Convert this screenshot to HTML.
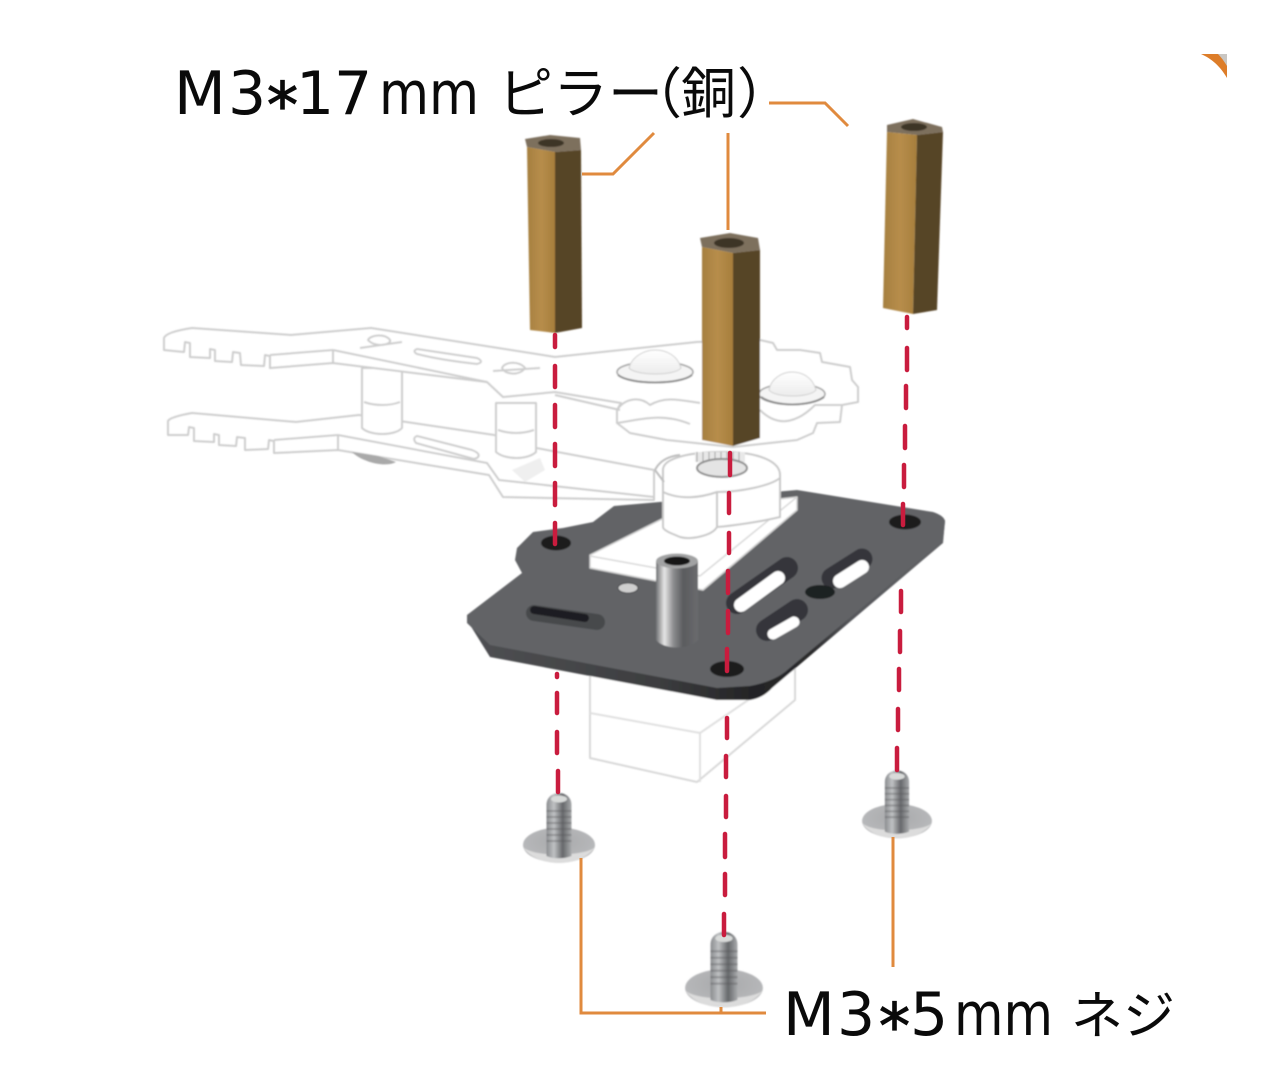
<!DOCTYPE html>
<html lang="ja">
<head>
<meta charset="utf-8">
<title>M3 pillar assembly</title>
<style>
html,body{margin:0;padding:0;background:#fff;width:1280px;height:1083px;overflow:hidden}
svg{display:block}
.l{font-family:"DejaVu Sans","Noto Sans CJK JP",sans-serif;font-size:60px;fill:#0a0a0a}
.a{font-family:"DejaVu Sans",sans-serif;font-size:62px;fill:#0a0a0a;stroke:#0a0a0a;stroke-width:1.2}
.j{font-family:"Noto Sans CJK JP","Liberation Sans",sans-serif;font-size:55px;fill:#0a0a0a}
.g{fill:#fff;stroke:#cdcdcd;stroke-width:2;stroke-linejoin:round}
.gn{fill:none;stroke:#cdcdcd;stroke-width:2;stroke-linejoin:round}
.o{fill:none;stroke:#e08a3e;stroke-width:3}
.r{stroke:#c91c3e;stroke-width:4.5;stroke-linecap:round;fill:none}
</style>
</head>
<body>
<svg width="1280" height="1083" viewBox="0 0 1280 1083" xmlns="http://www.w3.org/2000/svg">
<defs>
<filter id="soft" x="-5%" y="-5%" width="110%" height="110%"><feGaussianBlur stdDeviation="0.7"/></filter>
<linearGradient id="br" x1="0" x2="1" y1="0" y2="0"><stop offset="0" stop-color="#a57f3f"/><stop offset=".5" stop-color="#b78d4b"/><stop offset="1" stop-color="#a67e3c"/></linearGradient>
<linearGradient id="st" x1="0" x2="1" y1="0" y2="0"><stop offset="0" stop-color="#6f7073"/><stop offset=".2" stop-color="#e6e6e6"/><stop offset=".42" stop-color="#8a8b8d"/><stop offset=".65" stop-color="#5a5b5e"/><stop offset="1" stop-color="#6a6b6e"/></linearGradient>
<linearGradient id="th" x1="0" x2="1" y1="0" y2="0"><stop offset="0" stop-color="#8b8d90"/><stop offset=".3" stop-color="#bfc1c3"/><stop offset=".65" stop-color="#66686b"/><stop offset="1" stop-color="#a9abad"/></linearGradient>
<radialGradient id="hd" cx=".5" cy=".4" r=".65"><stop offset="0" stop-color="#a8a9ab"/><stop offset=".8" stop-color="#b7b8ba"/><stop offset="1" stop-color="#77787b"/></radialGradient>
<linearGradient id="side" x1="467" x2="945" y1="0" y2="0" gradientUnits="userSpaceOnUse"><stop offset="0" stop-color="#4f5053"/><stop offset=".4" stop-color="#3c3d3f"/><stop offset=".6" stop-color="#232325"/><stop offset=".72" stop-color="#2a2a2c"/><stop offset=".8" stop-color="#55565a"/><stop offset="1" stop-color="#626366"/></linearGradient>
<linearGradient id="dome" x1="0" x2="0" y1="0" y2="1"><stop offset="0" stop-color="#fff"/><stop offset="1" stop-color="#ececec"/></linearGradient>
<g id="screw">
  <ellipse cx="0" cy="0" rx="36" ry="17.5" fill="url(#hd)"/>
  <path d="M-36 2C-28 15 -10 18 0 18S28 15 36 2C28 11 -25 13 -36 2Z" fill="#dcdcdc"/>
  <path d="M-12.5 -40C-12.5 -56 12.5 -56 12.5 -40V11C5 14 -6 14 -12.5 11Z" fill="url(#th)"/>
  <path d="M-12.5 -34H12.5M-12.5 -28H12.5M-12.5 -22H12.5M-12.5 -16H12.5M-12.5 -10H12.5M-12.5 -4H12.5" stroke="#565759" stroke-opacity=".35" stroke-width="2"/>
  <ellipse cx="0" cy="-46" rx="8" ry="3.5" fill="#d8dad9"/>
</g>
</defs>

<!-- corner mark -->
<path d="M1201 54H1227V78C1220 66 1212 59 1201 54Z" fill="#dd7d29"/>
<path d="M1218 54H1227V66C1224 61 1221 57 1218 54Z" fill="#c9c6c2"/>

<g filter="url(#soft)">
<!-- gripper lower arm -->
<path class="g" d="M168 421Q170 417 192 413L296 422L359 415L494 435L520 445L654 470L654 500L503 497L489 475L338 450L274 453L274 441L269 440L268 449L245 450L245 438L237 437L236 446L219 445L219 435L214 434L214 442L194 441L194 428L189 427L188 435L168 435Z"/>
<path class="gn" d="M338 435L487 463L499 480L654 497M338 435L338 450M274 440L338 435"/>
<path class="g" d="M417 436L472 450Q482 454 477 458L474 459L416 443Q412 438 417 436Z"/>
<path d="M352 452C362 462 385 468 396 462L378 456Z" fill="#a9a9a9"/>
<!-- posts -->
<path class="g" d="M362 368H402V428C395 436 370 436 362 428Z"/>
<path class="gn" d="M364 402C375 406 390 406 400 402"/>
<path class="g" d="M496 403H536V452C528 460 505 460 496 452Z"/>
<path class="gn" d="M498 430C510 434 522 434 534 430"/>
<path d="M512 470L540 458L545 470L525 482Z" fill="#efefef"/>
<!-- gripper upper arm and gear -->
<path class="g" d="M164 338Q166 332 192 328L291 335L371 328L555 357L697 342L760 340L773 343L777 350L800 350L820 353L822 362L850 367L852 380L858 387L858 402L842 405L840 422L817 423L813 433L797 440L733 447L667 440L630 433L617 423L617 410L621 403L555 392L503 397L487 382L333 363L270 368L270 356L265 355L264 366L241 365L240 353L233 352L232 362L215 361L215 350L210 349L210 358L190 357L190 343L185 342L184 352L164 350Z"/>
<path class="gn" d="M333 350L487 382M270 355L333 350M333 350V363M555 395L620 410M617 410C625 398 640 396 650 405C665 396 680 400 700 403M617 423C640 420 660 412 690 424M760 410C780 430 800 420 815 405L842 405"/>
<path class="g" d="M417 349L477 358Q485 362 477 364Q440 360 417 354Q412 351 417 349Z"/>
<!-- top small screws -->
<path class="gn" d="M360 348L402 342M368 340C370 335 385 333 390 340C392 345 375 348 368 340ZM493 371L540 368M502 368C505 361 520 361 525 368C520 376 505 375 502 368Z"/>
<!-- domes -->
<ellipse cx="655" cy="372" rx="38" ry="10.5" fill="#f4f4f4" stroke="#a4a4a4" stroke-width="1.6"/>
<path d="M629 368C632 356 645 350 655 350C667 350 678 356 681 368C675 376 636 376 629 368Z" fill="url(#dome)" stroke="#d0d0d0"/>
<path d="M618 375C630 385 680 385 692 375" fill="none" stroke="#8c8c8c" stroke-width="2"/>
<ellipse cx="792" cy="394" rx="33" ry="10.5" fill="#f4f4f4" stroke="#a4a4a4" stroke-width="1.6"/>
<path d="M769 390C771 378 783 372 792 372C803 372 813 378 816 390C810 398 775 398 769 390Z" fill="url(#dome)" stroke="#d0d0d0"/>
<path d="M761 397C775 407 810 407 824 397" fill="none" stroke="#8c8c8c" stroke-width="2"/>

<!-- servo below the plate -->
<path d="M590 660V758L697 782L795 700V660Z" fill="#fff" stroke="#d8d8d8" stroke-width="2" stroke-linejoin="round"/>
<path d="M590 713L700 733V782M700 733L795 668" fill="none" stroke="#e0e0e0" stroke-width="2"/>

<!-- plate -->
<path d="M467 620L490 657L717 700L750 700Q763 698 772 688L943 543L945 520L930 520L717 680L490 640Z" fill="url(#side)"/>
<path d="M614 506L797 490L933 512Q945 516 945 522L943 540L785 672Q772 682 750 686L717 688L490 645L467 623V615L522 573L515 560L517 548L533 532L563 528L593 522Z" fill="#626366"/>
<!-- slots -->
<path d="M534 613L597 622" stroke="#47484b" stroke-width="16" stroke-linecap="round"/>
<path d="M534 610L585 618" stroke="#1f1f21" stroke-width="8" stroke-linecap="round"/>
<path d="M787 568L737 603" stroke="#34353a" stroke-width="22" stroke-linecap="round"/>
<path d="M778 578L741 605" stroke="#fff" stroke-width="14" stroke-linecap="round"/>
<path d="M862 559L832 578" stroke="#34353a" stroke-width="21" stroke-linecap="round"/>
<path d="M862 567L840 581" stroke="#fff" stroke-width="14" stroke-linecap="round"/>
<path d="M797 610L767 630" stroke="#34353a" stroke-width="22" stroke-linecap="round"/>
<path d="M794 622L773 634" stroke="#fff" stroke-width="11" stroke-linecap="round"/>
<ellipse cx="820" cy="592" rx="15" ry="7" fill="#1f2022"/>
<ellipse cx="556" cy="543" rx="15" ry="7.5" fill="#1c1c1e"/>
<ellipse cx="905" cy="522" rx="16" ry="7.5" fill="#1c1c1e"/>
<ellipse cx="727" cy="669" rx="17" ry="8" fill="#1c1c1e"/>
<ellipse cx="628" cy="588" rx="10" ry="5" fill="#cfcfcf" stroke="#45464a"/>

<!-- servo white block -->
<path d="M590 555L680 510L797 497V510L703 590L590 568Z" fill="#fff" stroke="#d0d0d0" stroke-width="1.5" stroke-linejoin="round"/>
<path d="M590 556L700 576L797 497" fill="none" stroke="#d8d8d8" stroke-width="1.5"/>
<!-- servo horn -->
<path d="M663 470C663 458 690 452 723 452C760 452 780 462 780 475V517C760 522 730 526 717 527C712 536 690 540 680 537C670 533 663 530 663 527Z" fill="#fff" stroke="#c8c8c8" stroke-width="2"/>
<path d="M663 492C680 500 700 498 717 492C740 492 770 486 780 478M717 492V527" fill="none" stroke="#c8c8c8" stroke-width="2"/>
<path d="M655 470C660 460 670 456 680 455M655 470L664 482" fill="none" stroke="#bdbdbd" stroke-width="2"/>
<path d="M695 452H745V462H695Z" fill="#e8e8e8"/>
<path d="M697 452V462M703 452V462M709 452V462M715 452V462M721 452V462M727 452V462M733 452V462M739 452V462" stroke="#9c9c9c"/>
<ellipse cx="722" cy="468" rx="25" ry="9" fill="#e4e4e4" stroke="#8f8f8f" stroke-width="2"/>

<!-- metal standoff -->
<path d="M656 561V640C664 650 690 650 698 640V561Z" fill="url(#st)"/>
<ellipse cx="677" cy="561" rx="21" ry="7.5" fill="#a1a2a3"/>
<ellipse cx="677" cy="561" rx="13" ry="4.5" fill="#161617"/>

<!-- brass pillars -->
<path d="M525 139L550 135L580 138L581 150L555 152L527 147Z" fill="#7d705d"/>
<ellipse cx="551" cy="143" rx="13" ry="4" fill="#3d3425"/>
<path d="M527 147L555 152V333L530 330Z" fill="url(#br)"/>
<path d="M555 152L581 150L582 328L555 333Z" fill="#574526"/>

<path d="M700 238L730 233L758 238L760 250L733 253L702 247Z" fill="#7d705d"/>
<ellipse cx="729" cy="243" rx="15" ry="5" fill="#3d3425"/>
<path d="M702 247L733 253V446L702 440Z" fill="url(#br)"/>
<path d="M733 253L760 250V438L733 446Z" fill="#574526"/>

<path d="M887 125L913 119L942 127L943 132L917 135L887 132Z" fill="#7d705d"/>
<ellipse cx="914" cy="127" rx="13" ry="4" fill="#3d3425"/>
<path d="M887 132L917 135L913 314L883 308Z" fill="url(#br)"/>
<path d="M917 135L943 132L937 310L913 314Z" fill="#574526"/>

<!-- screws -->
<use href="#screw" transform="translate(559 845)"/>
<use href="#screw" transform="translate(724 988) scale(1.08)"/>
<use href="#screw" transform="translate(897 821) scale(.97)"/>
</g>

<!-- red dashes -->
<g class="r">
<path d="M555 335V347M555 366V387M555 405V427M555 444V466M555 483V505M555 523V544"/>
<path d="M557 674V677M557 693V713M557 732V753M558 771V792"/>
<path d="M730 453V475M729 493V513M729 533V553M728 571V593M728 611V633M727 649V671"/>
<path d="M727 718V738M726 756V777M726 796V817M725 834V857M725 874V895M724 914V935"/>
<path d="M907 317V328M907 348V370M906 386V408M905 426V448M904 465V487M903 504V525"/>
<path d="M901 591V612M900 631V652M899 669V690M898 709V730M897 748V770"/>
</g>

<!-- leader lines -->
<path class="o" d="M582 174H613L654 133"/>
<path class="o" d="M728 133V230"/>
<path class="o" d="M769 103H825L848 126"/>
<path class="o" d="M581 858V1013H766"/>
<path class="o" d="M721 1007V1013"/>
<path class="o" d="M893 837V967"/>

<!-- labels -->
<text class="l" x="174" y="114">M</text>
<text class="l" x="228" y="114">3</text>
<text class="a" x="267" y="127">*</text>
<text class="l" x="296" y="114">1</text>
<text class="l" x="334" y="114">7</text>
<text class="l" x="379" y="114" textLength="100" lengthAdjust="spacingAndGlyphs">mm</text>
<text class="j" x="498" y="113">ピラー</text>
<text class="j" x="627" y="113">（</text>
<text class="j" x="681" y="113">銅</text>
<text class="j" x="737" y="113">）</text>

<text class="l" x="783" y="1035">M</text>
<text class="l" x="837" y="1035">3</text>
<text class="a" x="879" y="1048">*</text>
<text class="l" x="910" y="1035">5</text>
<text class="l" x="954" y="1035" textLength="99" lengthAdjust="spacingAndGlyphs">mm</text>
<text class="j" x="1071" y="1034" style="font-size:52px">ネジ</text>
</svg>
</body>
</html>
